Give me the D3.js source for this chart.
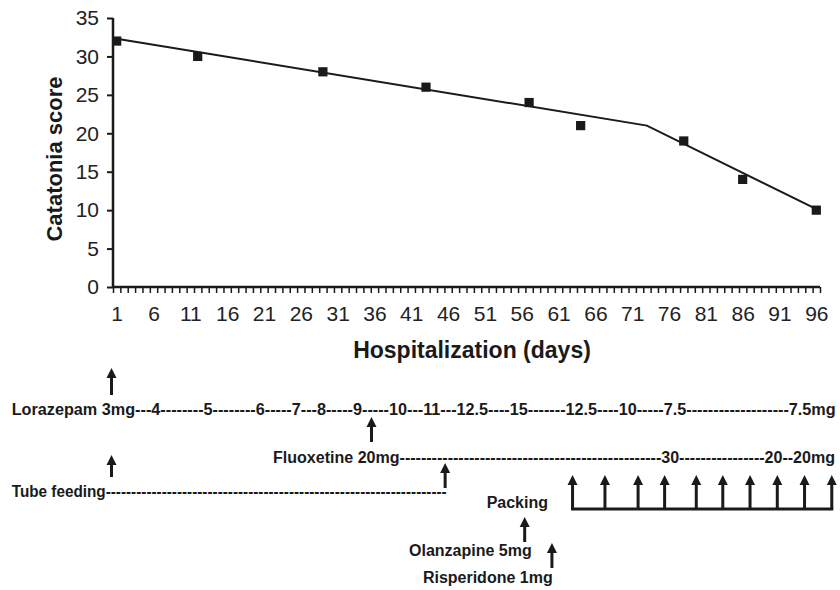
<!DOCTYPE html>
<html><head><meta charset="utf-8">
<script src="https://cdn.jsdelivr.net/npm/d3@7"></script>
<style>body{margin:0;background:#fff}svg{display:block;font-family:"Liberation Sans",Arial,sans-serif}</style>
</head><body><svg id="c" width="840" height="590"></svg>
<script>
// ---- data ----
const days = [1, 12, 29, 43, 57, 64, 78, 86, 96];
const scores = [32, 30, 28, 26, 24, 21, 19, 14, 10];
const trendDays = [1, 73, 96.5];
const trendVals = [32.3, 21.0, 9.9];
const yTicks = [0, 5, 10, 15, 20, 25, 30, 35];
const xLabelDays = [1, 6, 11, 16, 21, 26, 31, 36, 41, 46, 51, 56, 61, 66, 71, 76, 81, 86, 91, 96];
// annotation arrows (in day units on the same x scale)
const arrowLorazepam = 0.3, arrowFluoxetine = 35.6, arrowTubeEnd = 45.6, arrowOlanzapine = 56.4, arrowRisperidone = 60.1;
const arrowTube = 0.3;
const packingDays = [62.9, 67.3, 71.8, 75.4, 79.7, 83.3, 87.0, 90.7, 94.4, 98.1];
const lorazepamText = "Lorazepam 3mg---4--------5--------6-----7---8-----9-----10---11---12.5----15-------12.5----10-----7.5-------------------7.5mg";
const fluoxetineText = "Fluoxetine 20mg-------------------------------------------------30----------------20--20mg";
const tubeText = "Tube feeding-------------------------------------------------------------------";

// ---- chart ----
const svg = d3.select("#c");
const ink = "#1a1a1a";
const x = d3.scaleLinear().domain([0.5, 96.5]).range([113, 820]);
const y = d3.scaleLinear().domain([0, 35]).range([287, 18]);

// y axis
const ya = svg.append("g").attr("transform", "translate(113,0)")
  .call(d3.axisLeft(y).tickValues(yTicks).tickSize(6).tickPadding(8));
ya.select(".domain").attr("stroke", ink).attr("stroke-width", 2.5).attr("d", "M0,18V287");
ya.selectAll(".tick line").attr("stroke", ink).attr("stroke-width", 2);
ya.selectAll(".tick text").attr("font-size", 21).attr("fill", "#222").attr("font-family", "Liberation Sans, Arial");

// x axis ticks at category boundaries
const xa = svg.append("g").attr("transform", "translate(0,287)")
  .call(d3.axisBottom(x).tickValues(d3.range(0.5, 97, 1)).tickSize(6).tickFormat(""));
xa.select(".domain").attr("stroke", ink).attr("stroke-width", 2.5).attr("d", "M113,0H820");
xa.selectAll(".tick line").attr("stroke", ink).attr("stroke-width", 1.5);
// x labels
const xl = svg.append("g").attr("transform", "translate(0,287)")
  .call(d3.axisBottom(x).tickValues(xLabelDays).tickSize(0).tickPadding(19.5));
xl.select(".domain").remove();
xl.selectAll(".tick text").attr("font-size", 21).attr("fill", "#222").attr("font-family", "Liberation Sans, Arial");

// titles
svg.append("text").attr("x", 472).attr("y", 358).attr("text-anchor", "middle")
  .attr("font-size", 23).attr("font-weight", "bold").attr("fill", ink).text("Hospitalization (days)");
svg.append("text").attr("transform", "translate(62,159) rotate(-90)").attr("text-anchor", "middle")
  .attr("font-size", 22).attr("font-weight", "bold").attr("fill", ink).text("Catatonia score");

// trend line
const tl = trendDays.map((d, i) => [d, trendVals[i]]);
svg.append("path").datum(tl)
  .attr("d", d3.line().x(d => x(d[0])).y(d => y(d[1])))
  .attr("fill", "none").attr("stroke", ink).attr("stroke-width", 2);

// markers
svg.append("g").selectAll("path").data(days.map((d, i) => [d, scores[i]])).join("path")
  .attr("d", d3.symbol().type(d3.symbolSquare).size(85))
  .attr("transform", d => `translate(${x(d[0])},${y(d[1])})`)
  .attr("fill", ink);

// ---- annotations ----
function arrow(day, y0, y1) {
  const cx = x(day);
  svg.append("line").attr("x1", cx).attr("x2", cx).attr("y1", y0 + 8).attr("y2", y1)
    .attr("stroke", ink).attr("stroke-width", 3);
  svg.append("path").attr("d", `M${cx},${y0}L${cx - 5},${y0 + 10}L${cx + 5},${y0 + 10}Z`).attr("fill", ink);
}
function label(txt, x0, base, w, anchor) {
  const t = svg.append("text").attr("x", x0).attr("y", base).attr("font-size", 16)
    .attr("font-weight", "bold").attr("fill", ink).attr("text-anchor", anchor || "start").text(txt);
  if (w) t.attr("textLength", w).attr("lengthAdjust", "spacingAndGlyphs");
}

arrow(arrowLorazepam, 368, 395);
label(lorazepamText, 11.7, 415, 824);
arrow(arrowFluoxetine, 417, 442);
label(fluoxetineText, 273, 463, 562);
arrow(arrowTube, 455, 477);
label(tubeText, 11.7, 497, 435);
arrow(arrowTubeEnd, 463, 488);
label("Packing", 548, 508, null, "end");
arrow(arrowOlanzapine, 517, 542);
label("Olanzapine 5mg", 531.7, 556, null, "end");
arrow(arrowRisperidone, 543, 568);
label("Risperidone 1mg", 552.7, 583, null, "end");

packingDays.forEach(d => arrow(d, 475, 509));
svg.append("line").attr("x1", x(packingDays[0]) - 1.5).attr("x2", x(packingDays[packingDays.length - 1]) + 1.5)
  .attr("y1", 509).attr("y2", 509).attr("stroke", ink).attr("stroke-width", 3);
</script></body></html>
